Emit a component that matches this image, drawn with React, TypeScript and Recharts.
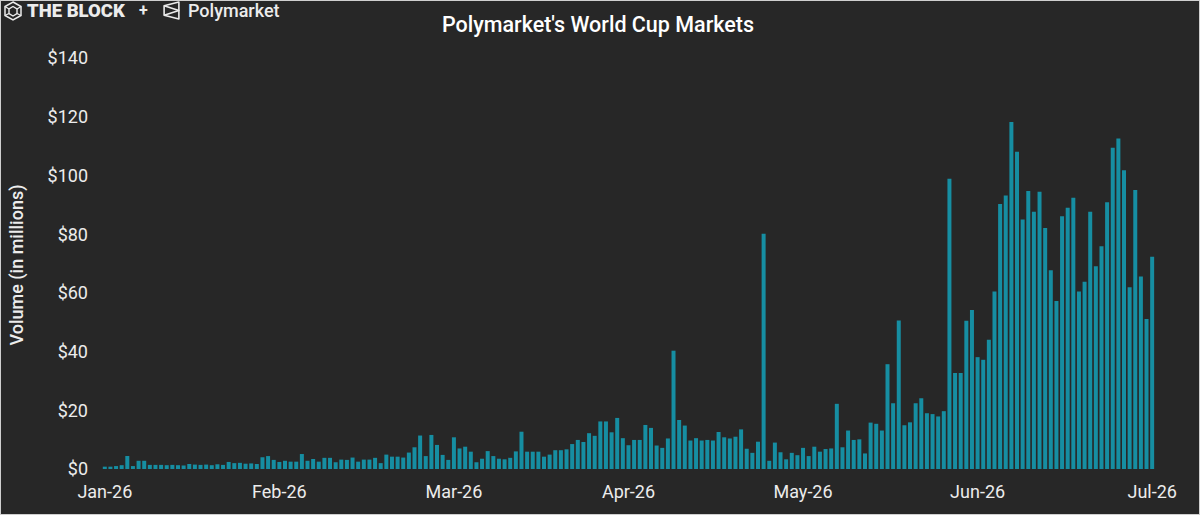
import React from "react";
import { BarChart, Bar, XAxis, YAxis } from "recharts";

// Daily trading volume (in $ millions), split by the x-axis label periods
const janVolumes = [0.8, 0.8, 1.0, 1.3, 4.4, 1.0, 2.8, 2.8, 1.4, 1.4, 1.4, 1.3, 1.4, 1.3, 1.2, 1.7, 1.5, 1.4, 1.5, 1.3, 1.6, 1.4, 2.4, 2.0, 2.1, 1.8, 1.9, 1.7, 4.0, 4.4, 3.1];
const febVolumes = [2.4, 2.8, 2.5, 2.5, 5.1, 2.8, 3.4, 2.5, 3.8, 3.8, 2.3, 3.2, 3.1, 3.9, 2.5, 3.2, 3.2, 3.8, 2.0, 4.9, 4.2, 4.2, 3.9, 5.6, 7.4, 11.4, 4.4, 11.6, 8.2, 4.8, 3.1];
const marVolumes = [10.8, 7.0, 7.6, 5.9, 2.3, 3.5, 6.1, 4.4, 3.5, 3.3, 3.8, 6.0, 12.7, 5.9, 5.9, 5.9, 4.2, 4.9, 6.4, 6.4, 6.7, 8.5, 9.9, 9.2, 12.2, 11.3, 16.2, 16.2, 12.5, 17.4, 10.5];
const aprVolumes = [8.1, 9.9, 9.9, 15.0, 14.0, 8.0, 7.2, 10.4, 40.3, 16.7, 14.8, 9.7, 10.5, 9.7, 9.9, 9.7, 12.6, 10.8, 10.4, 11.0, 13.5, 6.9, 5.5, 9.3, 80.1, 2.8, 9.0, 5.7, 3.3, 5.5, 4.7];
const mayVolumes = [7.2, 4.4, 7.6, 5.9, 6.8, 7.0, 22.2, 7.4, 13.1, 9.9, 10.1, 5.3, 15.8, 15.4, 13.1, 35.7, 22.4, 50.6, 14.9, 15.9, 22.4, 24.1, 19.0, 18.7, 17.9, 19.7, 98.9, 32.7, 32.7, 50.5, 54.2];
const junVolumes = [38.1, 37.2, 44.0, 60.5, 90.3, 93.2, 118.2, 108.1, 85.0, 94.7, 87.6, 94.4, 82.1, 67.7, 57.2, 86.1, 89.0, 92.4, 60.5, 63.8, 87.6, 69.1, 75.9, 90.9, 109.4, 112.6, 101.8, 61.9, 95.0, 65.6, 51.1, 72.3];

const tickLabels = ["Jan-26", "Feb-26", "Mar-26", "Apr-26", "May-26", "Jun-26", "Jul-26"];
const tickIndices = [0, 31, 62, 93, 124, 155, 186];
const yTicks = [0, 20, 40, 60, 80, 100, 120, 140];

const volumes = [...janVolumes, ...febVolumes, ...marVolumes, ...aprVolumes, ...mayVolumes, ...junVolumes];
const data = volumes.map((v, i) => ({ k: i, v }));

const BG = "#272727";
const BAR = "#168ea2";
const TXT = "#ececec";
const FONT = "Roboto, 'Noto Sans', sans-serif";

function BlockIcon() {
  return (
    <svg width={20} height={20} viewBox="0 0 20 20" style={{ position: "absolute", left: 3, top: 1 }}>
      <polygon points="10,1 18,5.5 18,14.5 10,19 2,14.5 2,5.5" fill="none" stroke={TXT} strokeWidth={1.5} />
      <polygon points="10,5.5 14,8 14,12.5 10,15 6,12.5 6,8" fill="none" stroke={TXT} strokeWidth={1.4} />
      <line x1="2" y1="5.5" x2="6" y2="8" stroke={TXT} strokeWidth={1.3} />
      <line x1="18" y1="5.5" x2="14" y2="8" stroke={TXT} strokeWidth={1.3} />
      <line x1="2" y1="14.5" x2="6" y2="12.5" stroke={TXT} strokeWidth={1.3} />
      <line x1="18" y1="14.5" x2="14" y2="12.5" stroke={TXT} strokeWidth={1.3} />
    </svg>
  );
}

function PolyIcon() {
  return (
    <svg width={19} height={19} viewBox="0 0 18 18" style={{ position: "absolute", left: 162, top: 1 }}>
      <path d="M16 1 L16 17 L2 13.5 L2 4.5 Z" fill="none" stroke={TXT} strokeWidth={1.5} strokeLinejoin="round" />
      <path d="M2 4.5 L16 9 L2 13.5" fill="none" stroke={TXT} strokeWidth={1.5} strokeLinejoin="round" />
    </svg>
  );
}

export default function App() {
  return (
    <div style={{ position: "absolute", left: 0, top: 0, width: 1200, height: 515, background: BG, fontFamily: FONT, overflow: "hidden" }}>
      <BarChart width={1200} height={515} data={data} margin={{ top: 58, right: 45, bottom: 16, left: 0 }} barCategoryGap="14%">
        <XAxis
          dataKey="k"
          type="category"
          ticks={tickIndices}
          interval={0}
          tickFormatter={(v) => tickLabels[tickIndices.indexOf(Number(v))] ?? ""}
          axisLine={false}
          tickLine={false}
          tickSize={0}
          tickMargin={16}
          height={30}
          tick={{ fill: TXT, fontSize: 18, fontFamily: FONT }}
        />
        <YAxis
          domain={[0, 140]}
          ticks={yTicks}
          interval={0}
          tickFormatter={(v) => `$${v}`}
          axisLine={false}
          tickLine={false}
          tickSize={0}
          tickMargin={14}
          width={102}
          tick={{ fill: TXT, fontSize: 18, fontFamily: FONT }}
        />
        <Bar dataKey="v" fill={BAR} isAnimationActive={false} />
      </BarChart>

      <BlockIcon />
      <div style={{ position: "absolute", left: 27, top: 0, lineHeight: "22px", fontSize: 18.5, fontWeight: 900, color: TXT, letterSpacing: 0 }}>THE BLOCK</div>
      <div style={{ position: "absolute", left: 139, top: 0, lineHeight: "22px", fontSize: 16, fontWeight: 700, color: TXT }}>+</div>
      <PolyIcon />
      <div style={{ position: "absolute", left: 188, top: 0, lineHeight: "22px", fontSize: 18, fontWeight: 500, color: TXT }}>Polymarket</div>

      <div style={{ position: "absolute", left: 0, top: 12, width: 1196, textAlign: "center", lineHeight: "26px", fontSize: 21.5, fontWeight: 500, color: "#ffffff" }}>
        Polymarket's World Cup Markets
      </div>

      <div style={{ position: "absolute", left: 17, top: 265, transform: "translate(-50%, -50%) rotate(-90deg)", whiteSpace: "nowrap", fontSize: 18, fontWeight: 500, color: TXT, lineHeight: "20px" }}>
        Volume (in millions)
      </div>

      <div style={{ position: "absolute", left: 0, top: 0, width: 1200, height: 515, boxSizing: "border-box", border: "1px solid #cfcfcf", pointerEvents: "none" }} />
    </div>
  );
}
